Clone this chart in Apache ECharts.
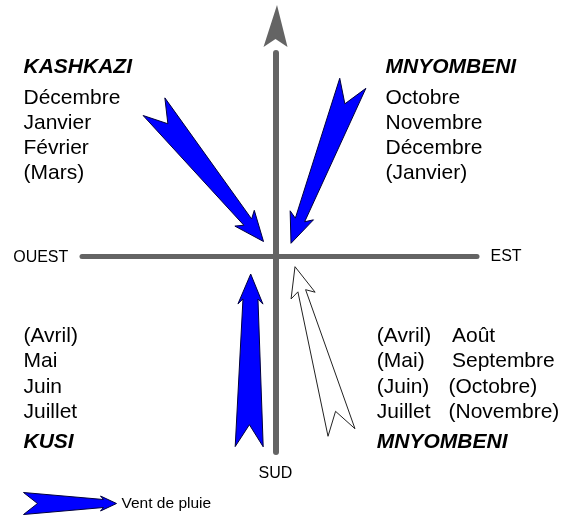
<!DOCTYPE html>
<html><head><meta charset="utf-8">
<script src="https://cdn.jsdelivr.net/npm/echarts@6/dist/echarts.min.js"></script>
<style>html,body{margin:0;padding:0;background:#fff}#c{width:565px;height:515px}</style>
</head><body><div id="c"></div>
<script>
// ---------------- data ----------------
const directionNames = ['OUEST', 'EST', 'SUD'];
const windHeaders = ['KASHKAZI', 'MNYOMBENI', 'KUSI', 'MNYOMBENI'];
const monthsKashkazi = ['Décembre', 'Janvier', 'Février', '(Mars)'];
const monthsMnyombeniNE = ['Octobre', 'Novembre', 'Décembre', '(Janvier)'];
const monthsKusi = ['(Avril)', 'Mai', 'Juin', 'Juillet'];
const monthsMnyombeniSE1 = ['(Avril)', '(Mai)', '(Juin)', 'Juillet'];
const monthsMnyombeniSE2 = ['Août', 'Septembre', '(Octobre)', '(Novembre)'];
// wind arrows: tail and tip in compass units (origin = centre of the cross)
const windNames = ['Kashkazi', 'Mnyombeni (NE)', 'Kusi', 'Mnyombeni (SE)'];
const windTail = [[-121.5, 149.8], [77.3, 173.2], [-26.3, -190.2], [66, -176]];
const windTip = [[-12, 15], [15.5, 13.2], [-24.8, -17.5], [19.5, -10.2]];
const windRain = [true, true, true, false];
const legendLabel = 'Vent de pluie';

// ---------------- layout / style ----------------
const FONT = '"Liberation Sans", Arial, sans-serif';
const X_MIN = -193.5, X_MAX = 201.5, Y_MIN = -195.5, Y_MAX = 203.5;
const TEXT_DY = -1.5;
const COL_L = -252, COL_RT = 110, COL_RB1 = 101.3, COL_RB2 = [176.5, 176.5, 173, 173];
const HEAD_T = 190.5, ROW_T = [159.5, 134.5, 109.5, 84.5];
const ROW_B = [-78.5, -103.5, -129, -154.5], FOOT_B = -184;
const ARROW = { tailHalf: 14, notch: 22, headLen: 30, headHalf: 12.5, joinBack: 25 };
const arrowNeck = [5, 5, 7.5, 4];
const NORTH_HEAD = { gap: 6, len: 42, half: 12, notch: 8, tipShift: 1.5 };
const AXIS_COLOR = '#646464';

// text items: [x, y, text, kind, align]
const textItems = [];
textItems.push([-207.2, 0.6, directionNames[0], 'd', 'right']);
textItems.push([COL_L, HEAD_T, windHeaders[0], 'h', 'left']);
textItems.push([COL_RT, HEAD_T, windHeaders[1], 'h', 'left']);
textItems.push([COL_L, FOOT_B, windHeaders[2], 'h', 'left']);
textItems.push([COL_RB1, FOOT_B, windHeaders[3], 'h', 'left']);
monthsKashkazi.forEach((t, i) => textItems.push([COL_L, ROW_T[i], t, 'm', 'left']));
monthsMnyombeniNE.forEach((t, i) => textItems.push([COL_RT, ROW_T[i], t, 'm', 'left']));
monthsKusi.forEach((t, i) => textItems.push([COL_L, ROW_B[i], t, 'm', 'left']));
monthsMnyombeniSE1.forEach((t, i) => textItems.push([COL_RB1, ROW_B[i], t, 'm', 'left']));
monthsMnyombeniSE2.forEach((t, i) => textItems.push([COL_RB2[i], ROW_B[i], t, 'm', 'left']));

function arrowPoints(T, P, g, neck) {
  const dx = P[0] - T[0], dy = P[1] - T[1], L = Math.hypot(dx, dy);
  const ux = dx / L, uy = dy / L, nx = -uy, ny = ux;
  const f = (b, a, s) => [b[0] + ux * a + nx * s, b[1] + uy * a + ny * s];
  return [f(T, 0, g.tailHalf), f(P, -g.joinBack, neck), f(P, -g.headLen, g.headHalf), P.slice(),
          f(P, -g.headLen, -g.headHalf), f(P, -g.joinBack, -neck), f(T, 0, -g.tailHalf), f(T, g.notch, 0)];
}
function makeArrowRender(fill, stroke) {
  return function (params, api) {
    const T = api.coord([api.value(0), api.value(1)]);
    const P = api.coord([api.value(2), api.value(3)]);
    const idx = api.value(4);
    return { type: 'polygon', shape: { points: arrowPoints(T, P, ARROW, arrowNeck[idx]) },
             style: { fill: fill, stroke: stroke, lineWidth: 1 } };
  };
}
function arrowData(rain) {
  const out = [];
  windTail.forEach((t, i) => { if (windRain[i] === rain) out.push([t[0], t[1], windTip[i][0], windTip[i][1], i]); });
  return out;
}

const chart = echarts.init(document.getElementById('c'), null, { renderer: 'canvas' });
chart.setOption({
  backgroundColor: '#fff',
  animation: false,
  grid: { left: 82, right: 88, top: 53, bottom: 63, containLabel: false },
  xAxis: {
    type: 'value', min: X_MIN, max: X_MAX,
    name: directionNames[1], nameLocation: 'end', nameGap: 13.5,
    nameTextStyle: { fontSize: 16, color: '#000', fontFamily: FONT, verticalAlign: 'middle', padding: [3, 0, 0, 0] },
    axisLine: { show: true, onZero: true, lineStyle: { color: AXIS_COLOR, width: 5 } },
    axisTick: { show: false }, axisLabel: { show: false }, splitLine: { show: false }
  },
  yAxis: {
    type: 'value', min: Y_MIN, max: Y_MAX,
    name: directionNames[2], nameLocation: 'start', nameGap: 14,
    nameTextStyle: { fontSize: 16, color: '#000', fontFamily: FONT },
    axisLine: { show: true, onZero: true, lineStyle: { color: AXIS_COLOR, width: 6 } },
    axisTick: { show: false }, axisLabel: { show: false }, splitLine: { show: false }
  },
  legend: {
    data: [legendLabel], left: 23, top: 492, padding: 0, itemWidth: 93, itemHeight: 22,
    icon: 'path://M0 0 L80 7 L77 3.5 L93 11 L77 18.5 L80 15 L0 22 L14 11 Z',
    selectedMode: false,
    textStyle: { fontSize: 15.5, color: '#000', fontFamily: FONT },
    itemStyle: { color: '#0000ff', borderColor: '#00003c', borderWidth: 1 }
  },
  series: [
    { name: 'Nord', type: 'custom', coordinateSystem: 'cartesian2d', clip: false, silent: true,
      encode: { x: 0, y: 1 }, data: [[0, Y_MAX]],
      renderItem: function (params, api) {
        const p = api.coord([api.value(0), api.value(1)]);
        const g = NORTH_HEAD, base = p[1] - g.gap, tip = base - g.len;
        return { type: 'polygon', shape: { points: [[p[0] + g.tipShift, tip], [p[0] + g.half, base],
                 [p[0], base - g.notch], [p[0] - g.half, base]] }, style: { fill: AXIS_COLOR } };
      } },
    { name: legendLabel, type: 'custom', coordinateSystem: 'cartesian2d', clip: false,
      itemStyle: { color: '#0000ff' }, encode: { x: [0, 2], y: [1, 3] },
      data: arrowData(true), renderItem: makeArrowRender('#0000ff', '#00003c') },
    { name: 'Vent sec', type: 'custom', coordinateSystem: 'cartesian2d', clip: false,
      itemStyle: { color: '#ffffff' }, encode: { x: [0, 2], y: [1, 3] },
      data: arrowData(false), renderItem: makeArrowRender('#ffffff', '#222222') },
    { name: 'Textes', type: 'custom', coordinateSystem: 'cartesian2d', clip: false, silent: true,
      encode: { x: 0, y: 1 },
      data: textItems.map(t => [t[0], t[1] + TEXT_DY]),
      renderItem: function (params, api) {
        const it = textItems[params.dataIndex];
        const p = api.coord([api.value(0), api.value(1)]);
        const k = it[3];
        return { type: 'text', x: p[0], y: p[1],
          style: { text: it[2], fill: '#000', fontFamily: FONT,
                   fontSize: k === 'd' ? 16 : 21, fontWeight: k === 'h' ? 'bold' : 'normal',
                   fontStyle: k === 'h' ? 'italic' : 'normal',
                   align: it[4], verticalAlign: 'middle', textAlign: it[4], textVerticalAlign: 'middle' } };
      } }
  ]
});
</script>
</body></html>
